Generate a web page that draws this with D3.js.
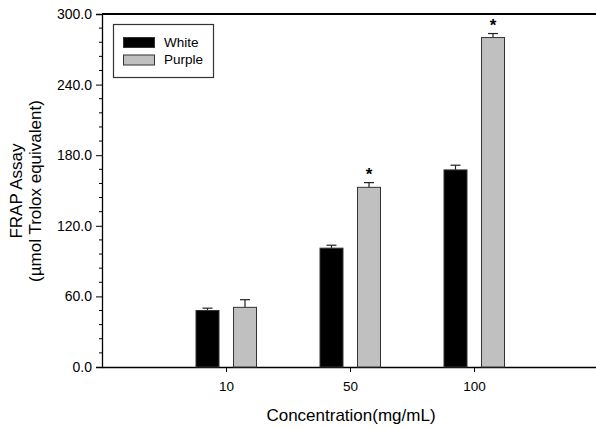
<!DOCTYPE html>
<html><head><meta charset="utf-8">
<script src="https://cdn.jsdelivr.net/npm/d3@7"></script>
<style>body{margin:0;background:#fff}svg{display:block}text{font-family:Arial,"Liberation Sans",sans-serif}</style>
</head><body><svg id="c" width="596" height="428"></svg>
<script>
const categories = ["10", "50", "100"];
const seriesNames = ["White", "Purple"];
const whiteValues = [48.0, 101.0, 167.5];
const whiteErrors = [2.0, 2.5, 4.0];
const purpleValues = [50.7, 152.7, 280.0];
const purpleErrors = [6.5, 4.0, 3.4];
const purpleSignificant = [false, true, true];
const yTicks = [0, 60, 120, 180, 240, 300];
const seriesColors = ["#000000", "#c0c0c0"];

(function () {
const svg = d3.select("#c");
const mLeft = 102, mRight = 598, mTop = 14, mBottom = 367;
const x = d3.scaleLinear().domain([0, categories.length + 1]).range([mLeft, mRight]);
const y = d3.scaleLinear().domain([0, 300]).range([mBottom, mTop]);

// minor ticks
const minor = d3.range(0, 301, 12).filter(v => v % 60 !== 0);
svg.append("g").selectAll("line").data(minor).join("line")
  .attr("x1", mLeft - 3).attr("x2", mLeft).attr("y1", d => y(d)).attr("y2", d => y(d))
  .attr("stroke", "#000").attr("stroke-width", 1);

const yAxis = svg.append("g").attr("transform", `translate(${mLeft},0)`)
  .call(d3.axisLeft(y).tickValues(yTicks).tickFormat(d3.format(".1f")).tickSize(6).tickPadding(4));
yAxis.select(".domain").attr("stroke-width", 1.3);
yAxis.selectAll("text").style("font-size", "14px").attr("fill", "#000");

const xAxis = svg.append("g").attr("transform", `translate(0,${mBottom})`)
  .call(d3.axisBottom(x).tickValues(categories.map((c, i) => i + 1)).tickFormat((d, i) => categories[i]).tickSize(5).tickSizeOuter(0).tickPadding(9));
xAxis.select(".domain").attr("stroke-width", 1.3);
xAxis.selectAll("text").style("font-size", "13.5px").attr("fill", "#000");

// top frame line
svg.append("line").attr("x1", mLeft).attr("x2", mRight).attr("y1", y(300)).attr("y2", y(300))
  .attr("stroke", "#000").attr("stroke-width", 2);

const barW = 23, offset = 18.5;
const series = [
  {vals: whiteValues, errs: whiteErrors, color: seriesColors[0], dx: -offset},
  {vals: purpleValues, errs: purpleErrors, color: seriesColors[1], dx: offset + 0.5}
];
series.forEach(s => {
  const g = svg.append("g");
  s.vals.forEach((v, i) => {
    const cx = x(i + 1) + s.dx;
    const ty = y(v + s.errs[i]);
    g.append("line").attr("x1", cx).attr("x2", cx).attr("y1", y(v)).attr("y2", ty).attr("stroke", "#222").attr("stroke-width", 1.2);
    g.append("line").attr("x1", cx - 5).attr("x2", cx + 5).attr("y1", ty).attr("y2", ty).attr("stroke", "#222").attr("stroke-width", 1.2);
    g.append("rect").attr("x", cx - barW / 2).attr("width", barW).attr("y", y(v)).attr("height", y(0) - y(v))
      .attr("fill", s.color).attr("stroke", "#333").attr("stroke-width", 1);
  });
});

// significance stars
purpleValues.forEach((v, i) => {
  if (!purpleSignificant[i]) return;
  svg.append("text").attr("x", x(i + 1) + offset + 0.5).attr("y", y(v + purpleErrors[i]) - 3)
    .attr("text-anchor", "middle").style("font-size", "17px").attr("font-weight", "bold").text("*");
});

// legend
const lg = svg.append("g");
lg.append("rect").attr("x", 113.5).attr("y", 24.5).attr("width", 100).attr("height", 53)
  .attr("fill", "#fff").attr("stroke", "#333").attr("stroke-width", 1.2);
seriesNames.forEach((n, i) => {
  lg.append("rect").attr("x", 123.5).attr("y", 37.5 + i * 17.5).attr("width", 31).attr("height", 10)
    .attr("fill", seriesColors[i]).attr("stroke", "#333").attr("stroke-width", 1);
  lg.append("text").attr("x", 164).attr("y", 47 + i * 17).style("font-size", "13.5px").text(n);
});

// axis titles
svg.append("text").attr("transform", "translate(21.5,191) rotate(-90)").attr("text-anchor", "middle")
  .style("font-size", "17px").text("FRAP Assay");
svg.append("text").attr("transform", "translate(41,191) rotate(-90)").attr("text-anchor", "middle")
  .style("font-size", "17px").text("(\u00b5mol Trolox equivalent)");
svg.append("text").attr("x", 351).attr("y", 421).attr("text-anchor", "middle")
  .style("font-size", "17px").text("Concentration(mg/mL)");
})();
</script></body></html>
